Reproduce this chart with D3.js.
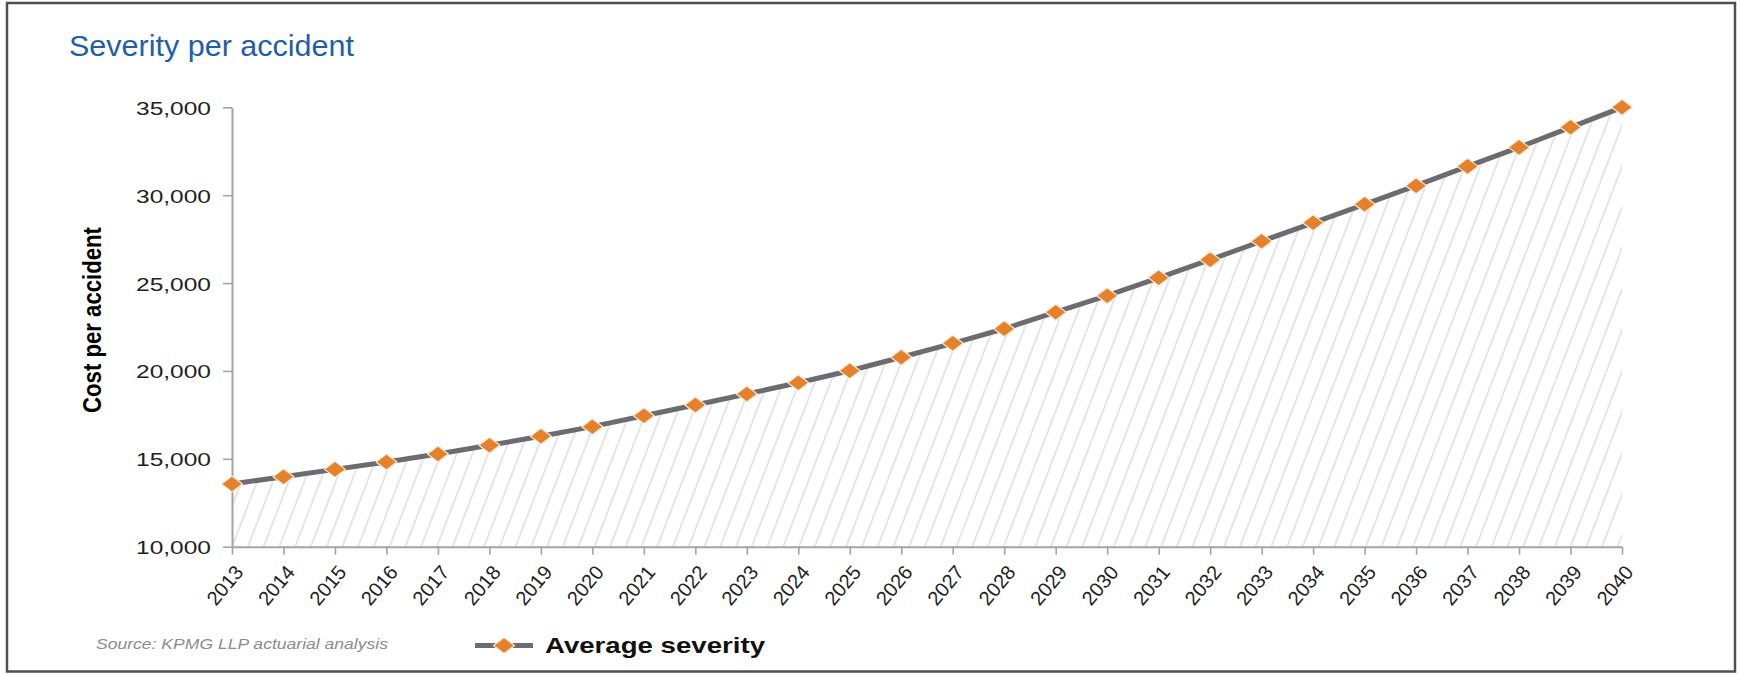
<!DOCTYPE html>
<html>
<head>
<meta charset="utf-8">
<script src="https://cdn.jsdelivr.net/npm/d3@7"></script>
<style>
  html, body { margin: 0; padding: 0; background: #ffffff; }
  svg { display: block; }
  text { font-family: "Liberation Sans", Arial, Helvetica, sans-serif; }
</style>
</head>
<body>
<svg id="chart" width="1741" height="674"></svg>
<script>
// ---- data -------------------------------------------------------------
const years = ["2013", "2014", "2015", "2016", "2017", "2018", "2019",
               "2020", "2021", "2022", "2023", "2024", "2025", "2026",
               "2027", "2028", "2029", "2030", "2031", "2032", "2033",
               "2034", "2035", "2036", "2037", "2038", "2039", "2040"];

const averageSeverity = [13570, 13980, 14400, 14820, 15270, 15770, 16280,
                         16830, 17450, 18060, 18690, 19330, 20010, 20780,
                         21570, 22400, 23340, 24280, 25300, 26330, 27380,
                         28430, 29480, 30540, 31640, 32720, 33860, 35000];

const yTickValues = [10000, 15000, 20000, 25000, 30000, 35000];

const chartTitle = "Severity per accident";
const yAxisTitle = "Cost per accident";
const seriesName = "Average severity";
const sourceNote = "Source: KPMG LLP actuarial analysis";

// ---- layout -----------------------------------------------------------
const W = 1741, H = 674;
const plot = { left: 232, right: 1622, top: 107.3, bottom: 546.7 };

const colors = {
  frame: "#4f4f4f",
  title: "#1f5ea8",
  axis: "#a4a4a6",
  tickText: "#222222",
  line: "#6b6b70",
  marker: "#e4812a",
  markerEdge: "#fbe9d8",
  hatch: "#d4d4d4",
  source: "#8c8c8c"
};

const svg = d3.select("#chart");

const x = d3.scalePoint().domain(years).range([plot.left, plot.right]);
const y = d3.scaleLinear().domain([10000, 35000]).range([plot.bottom, plot.top]);

const rows = years.map((yr, i) => ({ year: yr, value: averageSeverity[i] }));

// outer frame
svg.append("rect")
  .attr("x", 7).attr("y", 3)
  .attr("width", 1728).attr("height", 668.5)
  .attr("fill", "none")
  .attr("stroke", colors.frame)
  .attr("stroke-width", 2.5);

// diagonal hatch used under the curve
const defs = svg.append("defs");
const hatch = defs.append("pattern")
  .attr("id", "hatch")
  .attr("patternUnits", "userSpaceOnUse")
  .attr("width", 14.7)
  .attr("height", 20)
  .attr("patternTransform", "rotate(21)");
hatch.append("line")
  .attr("x1", 1).attr("y1", -2)
  .attr("x2", 1).attr("y2", 22)
  .attr("stroke", colors.hatch)
  .attr("stroke-width", 1.2);

const area = d3.area()
  .x(d => x(d.year))
  .y0(y(10000))
  .y1(d => y(d.value));

svg.append("path")
  .datum(rows)
  .attr("d", area)
  .attr("fill", "url(#hatch)");

// title
svg.append("text")
  .attr("x", 69).attr("y", 55.5)
  .attr("font-size", 29)
  .attr("fill", colors.title)
  .attr("textLength", 285)
  .attr("lengthAdjust", "spacingAndGlyphs")
  .text(chartTitle);

// y axis
const yAxis = svg.append("g")
  .attr("transform", `translate(${plot.left},0)`)
  .call(d3.axisLeft(y)
    .tickValues(yTickValues)
    .tickSize(9)
    .tickSizeOuter(0)
    .tickFormat(d3.format(",")));

yAxis.select(".domain").attr("stroke", colors.axis).attr("stroke-width", 2);
yAxis.selectAll(".tick line").attr("stroke", colors.axis).attr("stroke-width", 1.6);
yAxis.selectAll(".tick text")
  .attr("x", -21)
  .attr("dy", null)
  .attr("y", 7)
  .attr("font-size", 18.6)
  .attr("font-family", null)
  .attr("fill", colors.tickText)
  .attr("textLength", 75)
  .attr("lengthAdjust", "spacingAndGlyphs")
  .style("text-anchor", "end");

// x axis
const xAxis = svg.append("g")
  .attr("transform", `translate(0,${plot.bottom})`)
  .call(d3.axisBottom(x).tickSize(8).tickSizeOuter(0));

xAxis.select(".domain").attr("stroke", colors.axis).attr("stroke-width", 2);
xAxis.selectAll(".tick line").attr("stroke", colors.axis).attr("stroke-width", 1.6);
xAxis.selectAll(".tick text")
  .attr("x", 0).attr("y", 0).attr("dy", null)
  .attr("transform", "translate(12,26) rotate(-50)")
  .attr("font-size", 20)
  .attr("font-family", null)
  .attr("fill", colors.tickText)
  .style("text-anchor", "end");

// y axis title
svg.append("text")
  .attr("transform", "translate(101,320) rotate(-90)")
  .attr("text-anchor", "middle")
  .attr("font-size", 26)
  .attr("font-weight", "bold")
  .attr("fill", "#000")
  .attr("textLength", 186)
  .attr("lengthAdjust", "spacingAndGlyphs")
  .style("font-family", '"Liberation Sans Narrow", "Arial Narrow", "Liberation Sans", Arial, sans-serif')
  .text(yAxisTitle);

// series line
const line = d3.line().x(d => x(d.year)).y(d => y(d.value));
svg.append("path")
  .datum(rows)
  .attr("d", line)
  .attr("fill", "none")
  .attr("stroke", colors.line)
  .attr("stroke-width", 5)
  .attr("stroke-linejoin", "round");

// diamond markers
const diamond = "M0,-8 L10.5,0 L0,8 L-10.5,0 Z";
svg.append("g").selectAll("path")
  .data(rows)
  .join("path")
  .attr("transform", d => `translate(${x(d.year)},${y(d.value)})`)
  .attr("d", diamond)
  .attr("fill", colors.marker)
  .attr("stroke", colors.markerEdge)
  .attr("stroke-width", 1.2)
  .attr("stroke-linejoin", "round");

// source note
svg.append("text")
  .attr("x", 96).attr("y", 649)
  .attr("font-size", 14.5)
  .attr("font-style", "italic")
  .attr("fill", colors.source)
  .attr("textLength", 292)
  .attr("lengthAdjust", "spacingAndGlyphs")
  .text(sourceNote);

// legend
const legend = svg.append("g").attr("transform", "translate(475,645.5)");
legend.append("line")
  .attr("x1", 0).attr("x2", 58)
  .attr("y1", 0).attr("y2", 0)
  .attr("stroke", colors.line)
  .attr("stroke-width", 5);
legend.append("path")
  .attr("transform", "translate(29,0)")
  .attr("d", diamond)
  .attr("fill", colors.marker)
  .attr("stroke", colors.markerEdge)
  .attr("stroke-width", 1.2)
  .attr("stroke-linejoin", "round");
legend.append("text")
  .attr("x", 70).attr("y", 7)
  .attr("font-size", 22.5)
  .attr("font-weight", "bold")
  .attr("fill", "#111")
  .attr("textLength", 220)
  .attr("lengthAdjust", "spacingAndGlyphs")
  .text(seriesName);
</script>
</body>
</html>
